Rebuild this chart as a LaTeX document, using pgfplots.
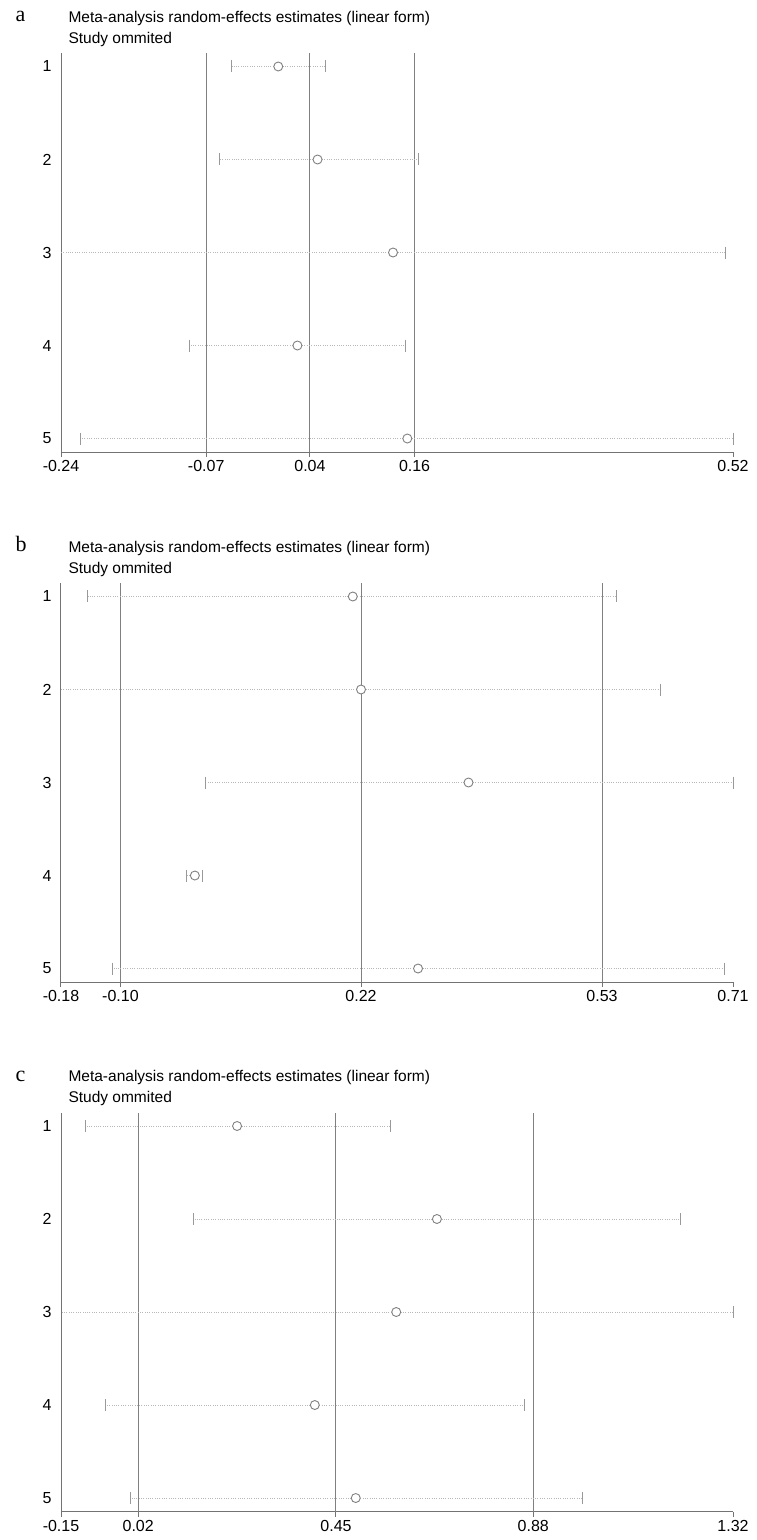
\documentclass[border=0pt]{standalone}
\usepackage{fontspec}
\setmainfont{Liberation Sans}
\newfontfamily\serifletter{Liberation Serif}
\usepackage{pgfplots}
\usepackage{pgfplotstable}
\pgfplotsset{compat=1.18}
\definecolor{refgray}{gray}{0.5}
\definecolor{axgray}{gray}{0.45}
\definecolor{cigray}{gray}{0.72}
\definecolor{capgray}{gray}{0.6}
\definecolor{ptgray}{gray}{0.5}

\pgfplotsset{
  forest/.style={
    scale only axis, width=672pt, height=399pt,
    anchor=north west,
    ymin=0.855, ymax=5.145,
    axis x line*=bottom, axis y line*=left,
    axis line style={draw=axgray, line width=1pt, -},
    x axis line style={-}, y axis line style={-},
    ytick={1,2,3,4,5}, yticklabels={5,4,3,2,1},
    ytick style={draw=none},
    yticklabel style={xshift=-1pt},
    xtick style={draw=axgray, line width=1pt},
    tick align=outside, major tick length=5pt,
    tick label style={font=\fontsize{16}{18}\selectfont},
    clip=false,
  },
  refline/.style={draw=refgray, line width=1pt, forget plot},
  ci/.style={draw=cigray, line width=0.9pt, dash pattern=on 0.9pt off 1.4pt},
  caps/.style={only marks, mark=|, mark size=6pt, unbounded coords=discard,
    mark options={draw=capgray, line width=1pt}},
  est/.style={only marks, mark=*, mark size=4.5pt,
    mark options={draw=ptgray, line width=0.9pt, fill=white}},
  cibars/.style={draw=none, mark=none,
    error bars/.cd, x dir=both, x explicit, error mark=none,
    error bar style={ci}},
}

% columns: y (row position, 5 = study 1), L, est, R, CL (left cap or nan)
\pgfplotstableread{
y L est R CL
5 -0.0448 0.0081 0.0615 -0.0448
4 -0.0588 0.0526 0.1666 -0.0588
3 -0.2380 0.1381 0.5147 nan
2 -0.0924 0.0298 0.1521 -0.0924
1 -0.2156 0.1543 0.5232 -0.2156
}\tabA
\pgfplotstableread{
y L est R CL
5 -0.1412 0.2068 0.5530 -0.1412
4 -0.1760 0.2176 0.6110 nan
3 0.0130 0.3586 0.7056 0.0130
2 -0.0113 -0.0004 0.0097 -0.0113
1 -0.1090 0.2924 0.6943 -0.1090
}\tabB
\pgfplotstableread{
y L est R CL
5 -0.0980 0.2340 0.5690 -0.0980
4 0.1395 0.6710 1.2027 0.1395
3 -0.1510 0.5820 1.3184 nan
2 -0.0530 0.4040 0.8615 -0.0530
1 0.0020 0.4935 0.9883 0.0020
}\tabC

\newcommand{\paneltext}[3]{%
  \node[anchor=base west, font=\serifletter\fontsize{22}{24}\selectfont] at (12pt,#3) {#2};
  \node[anchor=base west, font=\fontsize{15.5}{18}\selectfont] at (65pt,#1) {Meta-analysis random-effects estimates (linear form)};
  \node[anchor=base west, font=\fontsize{15.5}{18}\selectfont] at (65pt,#1-21pt) {Study ommited};
}

\begin{document}
\begin{tikzpicture}

% ---------- panel a ----------
\begin{axis}[forest, at={(61pt,-53pt)},
  xmin=-0.238, xmax=0.5232,
  xtick={-0.238,-0.0735,0.0440,0.1625,0.5232},
  xticklabels={-0.24,-0.07,0.04,0.16,0.52}]
\addplot[refline] coordinates {(-0.0735,0.855) (-0.0735,5.145)};
\addplot[refline] coordinates {(0.0440,0.855) (0.0440,5.145)};
\addplot[refline] coordinates {(0.1625,0.855) (0.1625,5.145)};
\addplot[cibars] table[x=est, y=y,
  x error plus expr=\thisrow{R}-\thisrow{est},
  x error minus expr=\thisrow{est}-\thisrow{L}] {\tabA};
\addplot[caps] table[x=CL, y=y] {\tabA};
\addplot[caps] table[x=R, y=y] {\tabA};
\addplot[est] table[x=est, y=y] {\tabA};
\end{axis}

% ---------- panel b ----------
\begin{axis}[forest, at={(61pt,-583pt)},
  xmin=-0.176, xmax=0.7056,
  xtick={-0.176,-0.098,0.2176,0.5338,0.7056},
  xticklabels={-0.18,-0.10,0.22,0.53,0.71}]
\addplot[refline] coordinates {(-0.098,0.855) (-0.098,5.145)};
\addplot[refline] coordinates {(0.2176,0.855) (0.2176,5.145)};
\addplot[refline] coordinates {(0.5338,0.855) (0.5338,5.145)};
\addplot[cibars] table[x=est, y=y,
  x error plus expr=\thisrow{R}-\thisrow{est},
  x error minus expr=\thisrow{est}-\thisrow{L}] {\tabB};
\addplot[caps] table[x=CL, y=y] {\tabB};
\addplot[caps] table[x=R, y=y] {\tabB};
\addplot[est] table[x=est, y=y] {\tabB};
\end{axis}

% ---------- panel c ----------
\begin{axis}[forest, at={(61pt,-1112.5pt)},
  xmin=-0.151, xmax=1.3184,
  xtick={-0.151,0.0178,0.4503,0.8817,1.3184},
  xticklabels={-0.15,0.02,0.45,0.88,1.32}]
\addplot[refline] coordinates {(0.0178,0.855) (0.0178,5.145)};
\addplot[refline] coordinates {(0.4503,0.855) (0.4503,5.145)};
\addplot[refline] coordinates {(0.8817,0.855) (0.8817,5.145)};
\addplot[cibars] table[x=est, y=y,
  x error plus expr=\thisrow{R}-\thisrow{est},
  x error minus expr=\thisrow{est}-\thisrow{L}] {\tabC};
\addplot[caps] table[x=CL, y=y] {\tabC};
\addplot[caps] table[x=R, y=y] {\tabC};
\addplot[est] table[x=est, y=y] {\tabC};
\end{axis}

\paneltext{-22pt}{a}{-21.5pt}
\paneltext{-552pt}{b}{-551.5pt}
\paneltext{-1081.5pt}{c}{-1081pt}

\path (0pt,0pt) rectangle (756pt,-1540pt);
\end{tikzpicture}
\end{document}
